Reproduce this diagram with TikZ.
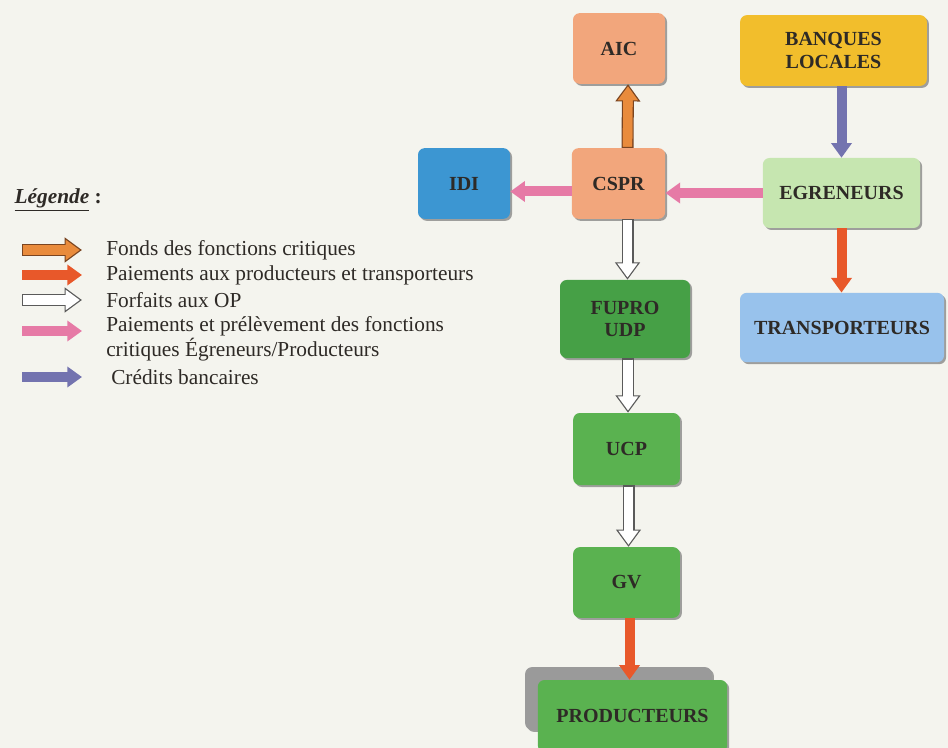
\documentclass[tikz,border=0pt]{standalone}
\usepackage{fontspec}
\setmainfont{Liberation Serif}
\usetikzlibrary{arrows.meta,shadows,calc}

\definecolor{fond}{HTML}{F4F4EE}
\definecolor{saumon}{HTML}{F2A67C}
\definecolor{jaune}{HTML}{F2BE2C}
\definecolor{bleuidi}{HTML}{3C96D2}
\definecolor{vertclair}{HTML}{C6E6B0}
\definecolor{vertfonce}{HTML}{46A046}
\definecolor{vert}{HTML}{5AB250}
\definecolor{bleuclair}{HTML}{98C2EC}
\definecolor{gris}{HTML}{9A9A9A}
\definecolor{texte}{HTML}{2E2A26}
\definecolor{orangef}{HTML}{E98B3C}
\definecolor{orangec}{HTML}{7A4420}
\definecolor{rougef}{HTML}{E8582A}
\definecolor{rosef}{HTML}{E67AA6}
\definecolor{violetf}{HTML}{7373AF}
\definecolor{creux}{HTML}{5A5A5A}

\tikzset{
  boite/.style={rounded corners=5pt, align=center, text=texte,
    font=\fontsize{15}{17}\selectfont\bfseries,
    drop shadow={shadow xshift=1.5pt, shadow yshift=-1.5pt, fill=black!60, opacity=.6}},
  legende/.style={anchor=west, align=left, text=texte, inner sep=0pt,
    font=\fontsize{16}{19}\selectfont},
  plein/.style={line width=7.5pt, draw=#1, -{Triangle[width=15pt,length=11pt]}},
}

% fleche avec contour : #1 contour, #2 interieur, #3 depart, #4 arrivee
\newcommand{\fleche}[4]{%
  \draw[line width=9pt, draw=#1, -{Triangle[width=18pt,length=13pt]}] #3 -- #4;
  \draw[line width=7pt, draw=#2, shorten <=1pt, shorten >=8pt] #3 -- #4;
  \draw[line width=7pt, draw=#2, shorten <=1pt, shorten >=1.6pt, -{Triangle[width=14.6pt,length=10.6pt]}] #3 -- #4;}

\begin{document}
\begin{tikzpicture}[x=0.75pt,y=-0.75pt]
\fill[fond] (0,0) rectangle (948,748);
\useasboundingbox (0,0) rectangle (948,748);

% boites
\node[boite, fill=saumon, minimum width=69pt, minimum height=53pt] (aic) at (619,48.5) {AIC};
\node[boite, fill=jaune, minimum width=140pt, minimum height=53pt] (banques) at (833.5,50.5) {BANQUES\\LOCALES};
\node[boite, fill=bleuidi, minimum width=69pt, minimum height=53pt] (idi) at (464,183.5) {IDI};
\node[boite, fill=saumon, minimum width=70pt, minimum height=53pt] (cspr) at (618.5,183.5) {CSPR};
\node[boite, fill=vertclair, minimum width=118pt, minimum height=52.5pt] (egren) at (841.5,193) {EGRENEURS};
\node[boite, fill=vertfonce, minimum width=97.5pt, minimum height=58.5pt] (fupro) at (625,319) {FUPRO\\UDP};
\node[boite, fill=bleuclair, minimum width=153pt, minimum height=52pt] (transp) at (842,327.5) {TRANSPORTEURS};
\node[boite, fill=vert, minimum width=80pt, minimum height=54pt] (ucp) at (626.5,449) {UCP};
\node[boite, fill=vert, minimum width=80pt, minimum height=53pt] (gv) at (626.5,582.5) {GV};
\node[boite, fill=gris, minimum width=140pt, minimum height=47pt] (prodfond) at (618.5,698.5) {};
\node[boite, fill=vert, minimum width=142pt, minimum height=54pt] (prod) at (632.5,716) {PRODUCTEURS};

% fleches
\fleche{orangec}{orangef}{($(cspr.north)+(9,0)$)}{($(aic.south)+(9,0)$)}
\draw[plein=rosef] (egren.west) -- (egren.west -| cspr.east);
\draw[plein=rosef] ([yshift=-6pt]cspr.west) -- ([yshift=-6pt]idi.east);
\draw[plein=violetf] (egren.north |- banques.south) -- (egren.north);
\draw[plein=rougef] (egren.south) -- (egren.south |- transp.north);
\fleche{creux}{white}{($(cspr.south)+(9,0)$)}{($(fupro.north -| cspr.south)+(9,0)$)}
\fleche{creux}{white}{($(ucp.north |- fupro.south)+(1.5,0)$)}{($(ucp.north)+(1.5,0)$)}
\fleche{creux}{white}{($(ucp.south)+(2,0)$)}{($(gv.north)+(2,0)$)}
\draw[plein=rougef] ($(gv.south)+(3,0)$) -- ($(gv.south |- prod.north)+(3,0)$);

% legende
\node[anchor=west, text=texte, font=\fontsize{16}{19}\selectfont\bfseries] (titre) at (10,200) {\underline{\textit{Légende}} :};
\node[legende] (l1) at (106,250) {Fonds des fonctions critiques};
\node[legende] (l2) at (106,275) {Paiements aux producteurs et transporteurs};
\node[legende] (l3) at (106,300) {Forfaits aux OP};
\node[legende] (l4) at (106,339) {Paiements et prélèvement des fonctions\\critiques Égreneurs/Producteurs};
\node[legende] (l5) at (111,377) {Crédits bancaires};

\fleche{orangec}{orangef}{($(l1.west)+(-84,0)$)}{($(l1.west)+(-24,0)$)}
\draw[plein=rougef] ($(l2.west)+(-84,0)$) -- ($(l2.west)+(-24,0)$);
\fleche{creux}{white}{($(l3.west)+(-84,0)$)}{($(l3.west)+(-24,0)$)}
\draw[plein=rosef] ($(l4.west)+(-84,-8)$) -- ($(l4.west)+(-24,-8)$);
\draw[plein=violetf] ($(l5.west)+(-89,0)$) -- ($(l5.west)+(-29,0)$);
\end{tikzpicture}
\end{document}
